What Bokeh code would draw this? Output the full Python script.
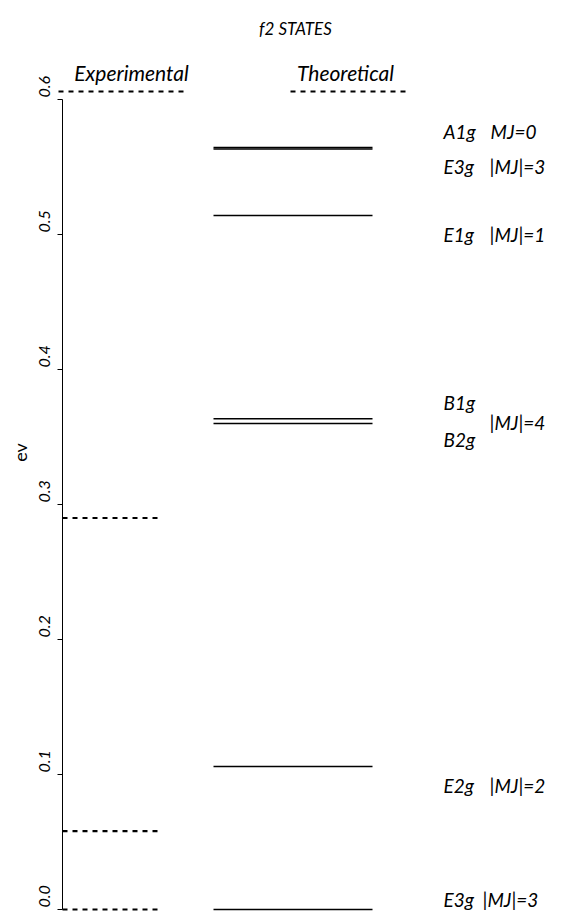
import math
from bokeh.plotting import figure
from bokeh.models import Range1d, FixedTicker, ColumnDataSource, LinearAxis
from bokeh.core.properties import value
from bokeh.embed import file_html
from bokeh.resources import INLINE

# ---------------- data ----------------
title_text = "f2 STATES"
y_axis_label = "ev"
column_headers = ["Experimental", "Theoretical"]
y_ticks = [0.0, 0.1, 0.2, 0.3, 0.4, 0.5, 0.6]
y_tick_labels = ["0.0", "0.1", "0.2", "0.3", "0.4", "0.5", "0.6"]

exp_levels = [0.0, 0.058, 0.29]

theo_states = ["A1g", "E3g", "E1g", "B1g", "B2g", "E2g", "E3g"]
theo_levels = [0.5645, 0.5633, 0.514, 0.3635, 0.360, 0.106, 0.0]

state_names = ["A1g", "E3g", "E1g", "B1g", "B2g", "E2g", "E3g"]
state_name_levels = [0.5645, 0.5633, 0.514, 0.3635, 0.360, 0.106, 0.0]
mj_labels = ["MJ=0", "|MJ|=3", "|MJ|=1", "|MJ|=4", "|MJ|=2", "|MJ|=3"]
mj_label_levels = [0.5645, 0.5633, 0.514, 0.3617, 0.106, 0.0]

# ---------------- layout / style ----------------
FONT = "Lato"
W, H = 553, 911
AXIS_X = 62
PX_PER_EV = 1350.0
ROW_06 = 99.0           # figure-pixel row of 0.6
y_top = 0.6 + ROW_06 / PX_PER_EV
y_bot = 0.6 - (H - ROW_06) / PX_PER_EV

def ev_at(fig_row):
    return 0.6 + (ROW_06 - fig_row) / PX_PER_EV

p = figure(width=W, height=H, output_backend="svg", toolbar_location=None,
           x_range=Range1d(0, W), y_range=Range1d(y_bot, y_top),
           x_axis_location=None, y_axis_location=None,
           min_border_left=0, min_border_right=0, min_border_top=0,
           min_border_bottom=0)
p.outline_line_color = None
p.grid.visible = False
p.background_fill_color = "white"
p.border_fill_color = "white"

ya = LinearAxis(fixed_location=AXIS_X, bounds=(0, 0.6),
                ticker=FixedTicker(ticks=y_ticks))
ya.major_label_overrides = {t: "" for t in y_ticks}
ya.major_label_text_font_size = "0px"
ya.major_label_standoff = 0
ya.minor_tick_line_color = None
ya.major_tick_out = 5
ya.major_tick_in = 0
ya.axis_line_color = "black"
ya.axis_line_width = 1
ya.major_tick_line_width = 1
p.add_layout(ya, "left")

# tick labels: rotated, starting just above each tick
tick_src = ColumnDataSource(dict(x=[44] * len(y_ticks), y=y_ticks, text=y_tick_labels))
p.text(x="x", y="y", text="text", source=tick_src, angle=math.pi / 2,
       y_offset=-2, text_align="left", text_baseline="alphabetic",
       text_font=value(FONT), text_font_style="italic",
       text_font_size="16px", text_color="black")
p.text(x=[19], y=[ev_at(452)], text=[y_axis_label], angle=math.pi / 2,
       text_align="center", text_baseline="alphabetic",
       text_font=value(FONT), text_font_size="18px", text_color="black")

# experimental levels (dashed)
exp_src = ColumnDataSource(dict(x0=[AXIS_X] * len(exp_levels), x1=[160] * len(exp_levels),
                                y=exp_levels))
p.segment(x0="x0", y0="y", x1="x1", y1="y", source=exp_src,
          line_color="black", line_width=2.2, line_dash="5 5")

# theoretical levels (solid)
theo_src = ColumnDataSource(dict(x0=[213] * len(theo_levels), x1=[372] * len(theo_levels),
                                 y=theo_levels, name=theo_states))
p.segment(x0="x0", y0="y", x1="x1", y1="y", source=theo_src,
          line_color="black", line_width=1.5)

# column header underlines (dashed)
hdr_y = ev_at(91)
p.segment(x0=[58, 290], y0=[hdr_y, hdr_y], x1=[186, 406], y1=[hdr_y, hdr_y],
          line_color="black", line_width=2.2, line_dash="5 5")

# title and headers
p.text(x=[295], y=[ev_at(28)], text=[title_text], text_align="center",
       text_baseline="middle", text_font=value(FONT), text_font_style="italic",
       text_font_size="17px", text_color="black")
p.text(x=[131, 345], y=[ev_at(72)] * 2, text=column_headers, text_align="center",
       text_baseline="middle", text_font=value(FONT), text_font_style="italic",
       text_font_size="21px", text_color="black")

# state labels
name_dy = [-16, 17, 19, -16, 16, 19, -10]
name_src = ColumnDataSource(dict(x=[443] * len(state_names), y=state_name_levels,
                                 text=state_names, dy=name_dy))
p.text(x="x", y="y", text="text", y_offset="dy", source=name_src, text_align="left",
       text_baseline="middle", text_font=value(FONT), text_font_style="italic",
       text_font_size="19px", text_color="black")

mj_x = [490, 489, 489, 489, 489, 482]
mj_dy = [-16, 17, 19, 1, 19, -10]
mj_src = ColumnDataSource(dict(x=mj_x, y=mj_label_levels, text=mj_labels, dy=mj_dy))
p.text(x="x", y="y", text="text", y_offset="dy", source=mj_src, text_align="left",
       text_baseline="middle", text_font=value(FONT), text_font_style="italic",
       text_font_size="19px", text_color="black")

open("out.html", "w").write(file_html(p, INLINE))
